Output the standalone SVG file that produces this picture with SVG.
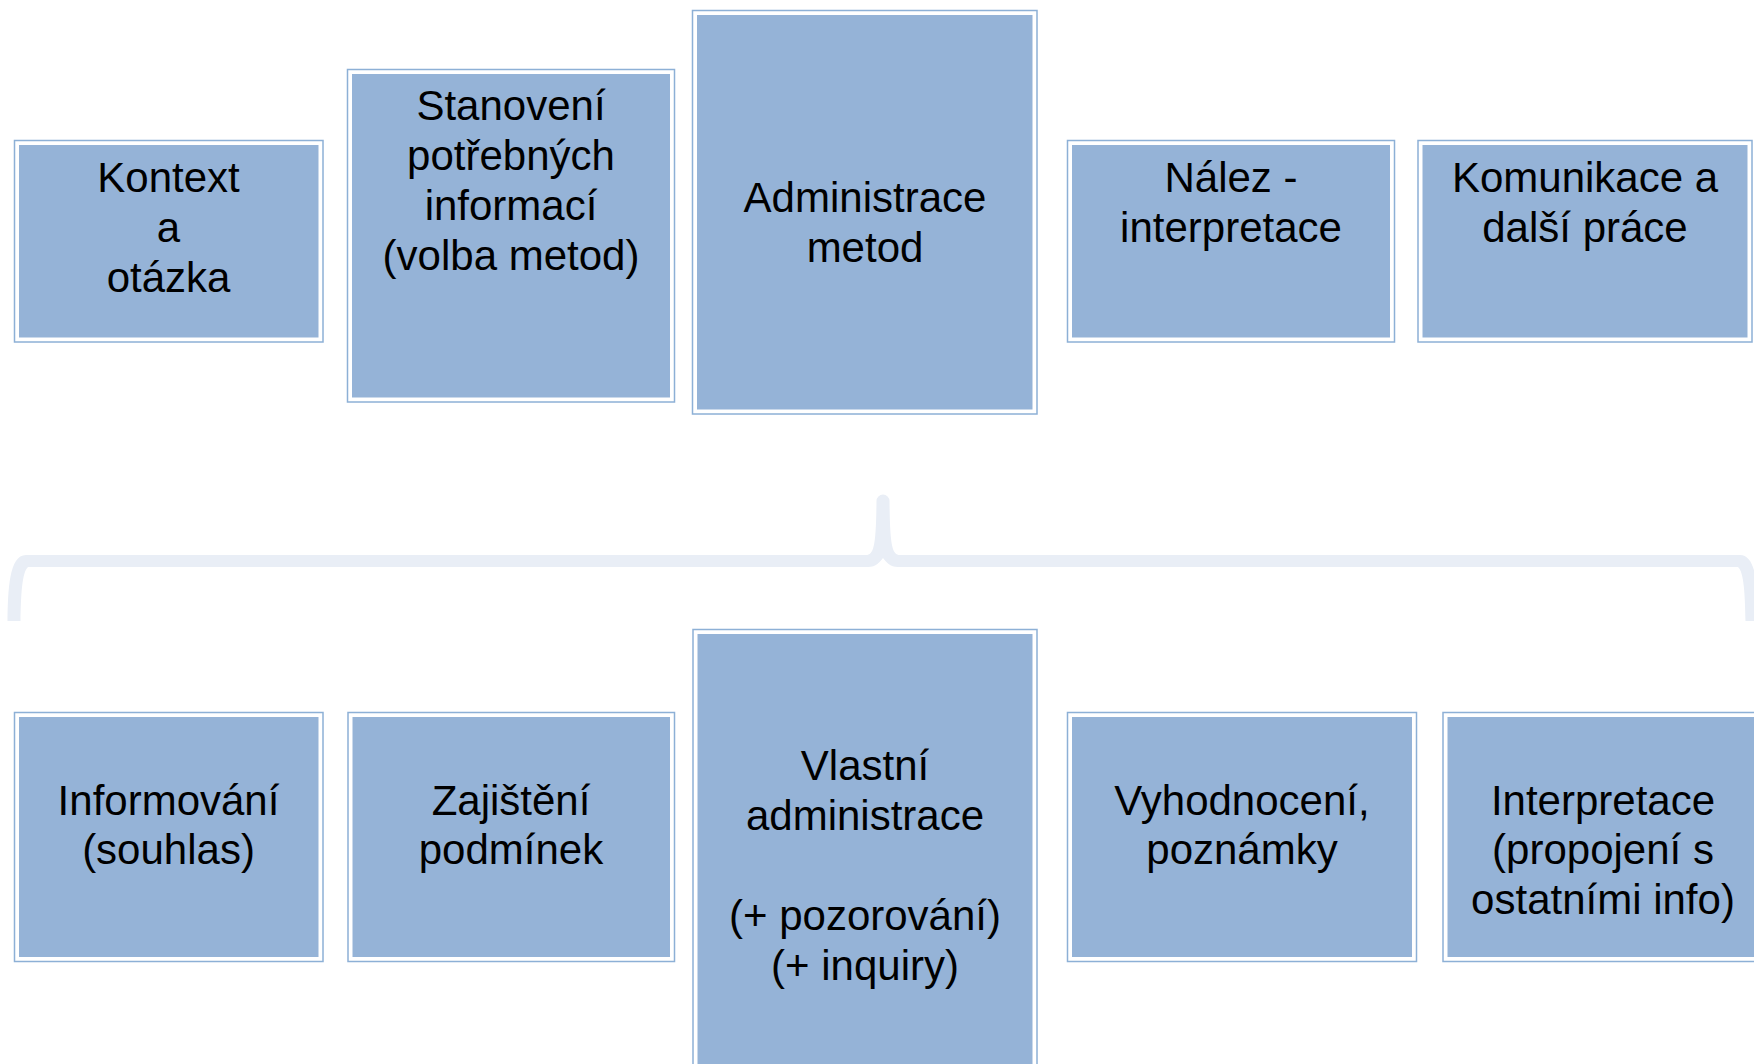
<svg xmlns="http://www.w3.org/2000/svg" width="1754" height="1064" viewBox="0 0 1754 1064">
<style>
.frame{fill:#ffffff;stroke:#8DB0D6;stroke-width:1.5}
.fill{fill:#95B3D7}
.lbl{font-family:"Liberation Sans",Arial,sans-serif;font-size:42px;fill:#000000;text-anchor:middle}
.brace{fill:#E9EEF6}
</style>
<rect width="1754" height="1064" fill="#ffffff"/>
<g id="connectors">
<path class="brace" d="M 7.5 621 L 20.5 621 C 21 595 22 572 28 567 L 868 567 C 876 567 880 562 883 558 C 886 562 890 567 898 567 L 1738 567 C 1744 572 1745 595 1745.5 621 L 1758.5 621 C 1758 590 1757 555 1740 555 L 900 555 C 892 555 890 545 889.5 501 A 6.5 6.5 0 0 0 876.5 501 C 876 545 874 555 866 555 L 26 555 C 9 555 8 590 7.5 621 Z"/>
</g>
<g id="n-kontext">
<rect class="frame" x="14.5" y="140.5" width="308.5" height="201.5"/>
<rect class="fill" x="19" y="145" width="299.5" height="192.5"/>
<text class="lbl" x="168.5" y="192">Kontext</text>
<text class="lbl" x="168.5" y="242">a</text>
<text class="lbl" x="168.5" y="292">otázka</text>
</g>
<g id="n-stanoveni">
<rect class="frame" x="347.5" y="69.5" width="327" height="332.5"/>
<rect class="fill" x="352" y="74" width="318" height="323.5"/>
<text class="lbl" x="511" y="120">Stanovení</text>
<text class="lbl" x="511" y="170">potřebných</text>
<text class="lbl" x="511" y="220">informací</text>
<text class="lbl" x="511" y="270">(volba metod)</text>
</g>
<g id="n-administrace">
<rect class="frame" x="692.5" y="10.5" width="344.5" height="403.5"/>
<rect class="fill" x="697" y="15" width="335.5" height="394.5"/>
<text class="lbl" x="865" y="212">Administrace</text>
<text class="lbl" x="865" y="262">metod</text>
</g>
<g id="n-nalez">
<rect class="frame" x="1067.5" y="140.5" width="327" height="201.5"/>
<rect class="fill" x="1072" y="145" width="318" height="192.5"/>
<text class="lbl" x="1231" y="192">Nález -</text>
<text class="lbl" x="1231" y="242">interpretace</text>
</g>
<g id="n-komunikace">
<rect class="frame" x="1418" y="140.5" width="334" height="201.5"/>
<rect class="fill" x="1422.5" y="145" width="325" height="192.5"/>
<text class="lbl" x="1585" y="192">Komunikace a</text>
<text class="lbl" x="1585" y="242">další práce</text>
</g>
<g id="n-informovani">
<rect class="frame" x="14.5" y="712.5" width="308.5" height="249"/>
<rect class="fill" x="19" y="717" width="299.5" height="240"/>
<text class="lbl" x="168.5" y="815">Informování</text>
<text class="lbl" x="168.5" y="864">(souhlas)</text>
</g>
<g id="n-zajisteni">
<rect class="frame" x="348" y="712.5" width="326.5" height="249"/>
<rect class="fill" x="352.5" y="717" width="317.5" height="240"/>
<text class="lbl" x="511" y="815">Zajištění</text>
<text class="lbl" x="511" y="864">podmínek</text>
</g>
<g id="n-vlastni">
<rect class="frame" x="693" y="629.5" width="344" height="500"/>
<rect class="fill" x="697.5" y="634" width="335" height="491"/>
<text class="lbl" x="865" y="780">Vlastní</text>
<text class="lbl" x="865" y="830">administrace</text>
<text class="lbl" x="865" y="930">(+ pozorování)</text>
<text class="lbl" x="865" y="980">(+ inquiry)</text>
</g>
<g id="n-vyhodnoceni">
<rect class="frame" x="1067.5" y="712.5" width="349" height="249"/>
<rect class="fill" x="1072" y="717" width="340" height="240"/>
<text class="lbl" x="1242" y="815">Vyhodnocení,</text>
<text class="lbl" x="1242" y="864">poznámky</text>
</g>
<g id="n-interpretace">
<rect class="frame" x="1443" y="712.5" width="340" height="249"/>
<rect class="fill" x="1447.5" y="717" width="331" height="240"/>
<text class="lbl" x="1603" y="815">Interpretace</text>
<text class="lbl" x="1603" y="864">(propojení s</text>
<text class="lbl" x="1603" y="914">ostatními info)</text>
</g>
</svg>
